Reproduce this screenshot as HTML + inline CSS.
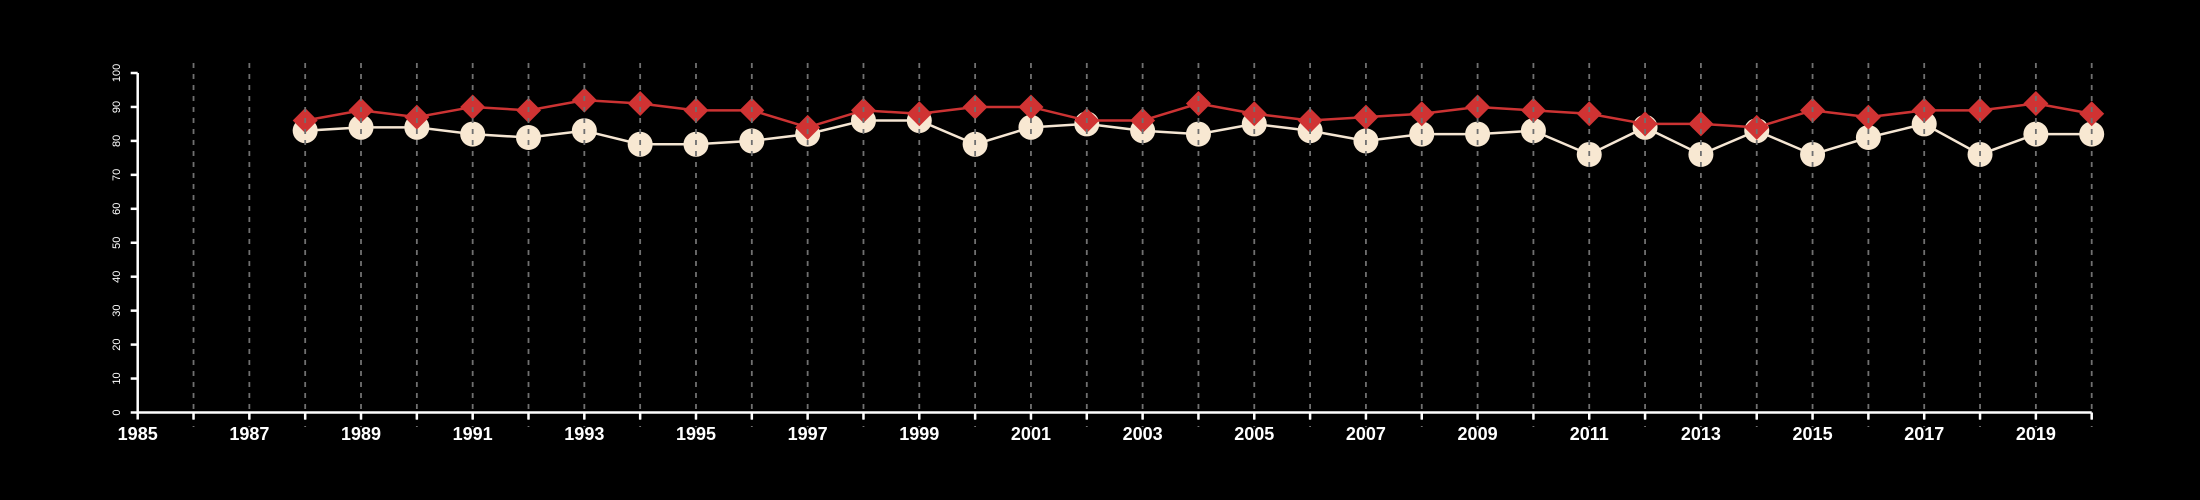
<!DOCTYPE html>
<html><head><meta charset="utf-8"><style>
html,body{margin:0;padding:0;background:#000;}
svg{display:block;font-family:"Liberation Sans",Arial,sans-serif;}
</style></head><body>
<svg id="chart" width="2200" height="500" viewBox="0 0 2200 500">
<rect width="2200" height="500" fill="#000"/>
<g id="series"></g>
<g id="grid"></g>
<g id="axes"></g>
</svg>
<script>
const years = [1988,1989,1990,1991,1992,1993,1994,1995,1996,1997,1998,1999,2000,2001,2002,2003,2004,2005,2006,2007,2008,2009,2010,2011,2012,2013,2014,2015,2016,2017,2018,2019,2020];
const redValues = [86,89,87,90,89,92,91,89,89,84,89,88,90,90,86,86,91,88,86,87,88,90,89,88,85,85,84,89,87,89,89,91,88];
const creamValues = [83,84,84,82,81,83,79,79,80,82,86,86,79,84,85,83,82,85,83,80,82,82,83,76,84,76,83,76,81,85,76,82,82];
const yTicks = [0,10,20,30,40,50,60,70,80,90,100];
const xLabelYears = [1985,1987,1989,1991,1993,1995,1997,1999,2001,2003,2005,2007,2009,2011,2013,2015,2017,2019];
const xMin=1985,xMax=2020,x0=137.7,x1=2091.7,y0=412.5,y1=73;
const X=v=>x0+(v-xMin)*(x1-x0)/(xMax-xMin);
const Y=v=>y0-(v)*(y0-y1)/100;
const NS='http://www.w3.org/2000/svg';
function mk(tag,attrs,parent){const e=document.createElementNS(NS,tag);for(const k in attrs)e.setAttribute(k,attrs[k]);parent.appendChild(e);return e;}
const S=document.getElementById('series'),G=document.getElementById('grid'),A=document.getElementById('axes');
let p=mk('polyline',{points:years.map((y,i)=>X(y)+','+Y(creamValues[i])).join(' '),fill:'none',stroke:'#f5e6d3','stroke-width':2.5},S);


years.forEach((y,i)=>{const c=mk('circle',{cx:X(y),cy:Y(creamValues[i]),r:12.5,fill:'#f8e8d2'},S);

});
p=mk('polyline',{points:years.map((y,i)=>X(y)+','+Y(redValues[i])).join(' '),fill:'none',stroke:'#cc3333','stroke-width':2.5},S);


years.forEach((y,i)=>{const cx=X(y),cy=Y(redValues[i]),r=12.5;
const d=mk('polygon',{points:`${cx},${cy-r} ${cx+r},${cy} ${cx},${cy+r} ${cx-r},${cy}`,fill:'#d03333'},S);

});
for(let y=xMin+1;y<=xMax;y++){const l=mk('line',{x1:X(y),x2:X(y),y1:63,y2:427,stroke:'#707070','stroke-width':1.8,'stroke-dasharray':'5,6'},G);

}
let a=mk('line',{x1:x0,x2:x1,y1:y0,y2:y0,stroke:'#fff','stroke-width':2.5},A);


a=mk('line',{x1:x0,x2:x0,y1:y0,y2:y1,stroke:'#fff','stroke-width':2.5},A);


for(let y=xMin;y<=xMax;y++){const t=mk('line',{x1:X(y),x2:X(y),y1:y0,y2:y0+7,stroke:'#fff','stroke-width':2.5},A);

}
xLabelYears.forEach(y=>{const t=mk('text',{x:X(y),y:440,fill:'#fff','font-size':18,'font-weight':'bold','text-anchor':'middle'},A);t.textContent=y;

});
yTicks.forEach(v=>{const t=mk('line',{x1:x0-7,x2:x0,y1:Y(v),y2:Y(v),stroke:'#fff','stroke-width':2.5},A);


const tx=mk('text',{x:0,y:0,fill:'#fff','font-size':11,'text-anchor':'middle',transform:`translate(120,${Y(v)}) rotate(-90)`},A);tx.textContent=v;

});
</script>
</body></html>
